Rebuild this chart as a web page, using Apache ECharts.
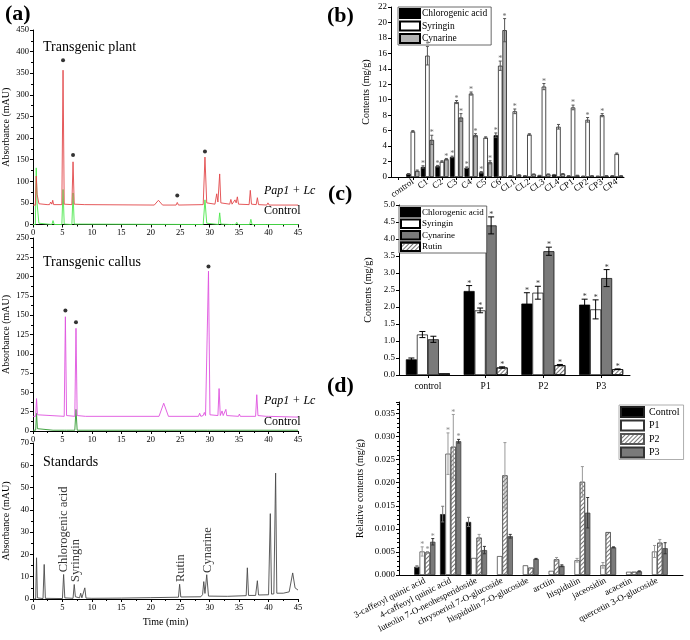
<!DOCTYPE html>
<html><head><meta charset="utf-8">
<script src="https://cdn.jsdelivr.net/npm/echarts/dist/echarts.min.js"></script>
<style>html,body{margin:0;padding:0;background:#fff}#c{width:690px;height:640px}</style>
</head><body><div id="c"></div>
<script>
const F = "'Liberation Serif','Times New Roman',serif";

// ---------- Panel (a): chromatograms, [time (min), absorbance (mAU)] ----------
const plantPap1Lc = [[0,45],[0.4,45],[0.55,112],[0.7,70],[0.85,72],[1.0,48],[2.4,46],[2.6,50],[2.8,46],[3.0,52],[3.2,47],[3.35,56],[3.5,46],[4.9,46],[5.1,357],[5.3,47],[6.6,46],[6.8,145],[7.0,47],[8.7,46],[8.85,49],[9.0,46],[20.6,45],[21.3,56],[22.0,45],[24.3,45],[24.5,51],[24.7,45],[28.9,46],[29.2,156],[29.5,50],[30.9,47],[31.2,71],[31.4,52],[31.7,117],[31.9,50],[33.4,47],[33.6,58],[33.8,47],[34.1,48],[34.3,57],[34.5,50],[34.7,64],[34.9,47],[36.7,46],[36.9,79],[37.1,47],[37.9,46],[38.1,62],[38.3,46],[39.7,45],[39.9,50],[40.1,45],[45,45]];
const plantControl = [[0,0],[0.4,0],[0.55,131],[0.7,48],[0.85,50],[1.0,3],[3.2,0],[3.4,9],[3.6,0],[4.9,0],[5.1,81],[5.3,1],[6.6,0],[6.8,73],[7.0,1],[28.9,0],[29.2,57],[29.5,3],[31.5,0],[31.7,27],[31.9,1],[33.5,0],[33.7,4],[33.9,0],[34.4,0],[34.6,5],[34.8,0],[36.8,0],[37.0,12],[37.2,0],[39.6,0],[39.8,2],[40.0,0],[45,0]];
const plantMarkedPeaks = [[5.1,380],[6.8,161],[24.5,67],[29.2,169]];

const callusPap1Lc = [[0,19],[0.45,19],[0.6,42],[0.75,21],[1.0,19],[5.3,19],[5.5,148],[5.7,20],[7.1,19],[7.3,133],[7.5,20],[8.9,19],[9.05,21],[9.2,19],[21.4,19],[22.2,36],[23.0,19],[28.1,19],[28.3,23],[28.5,19],[28.9,20],[29.1,24],[29.3,20],[29.55,20],[29.8,207],[30.05,21],[31.4,20],[31.6,55],[31.8,20],[32.0,20],[32.1,26],[32.3,20],[32.6,20],[32.75,28],[32.9,20],[34.9,19],[35.05,22],[35.2,19],[37.8,19],[38.0,47],[38.2,20],[39.6,19],[39.8,21],[40.0,19],[45,18]];
const callusControl = [[0,1],[0.45,1],[0.6,23],[0.75,3],[1.0,1],[3.4,1],[3.5,3],[3.6,1],[5.3,1],[5.5,3],[5.7,1],[7.1,1],[7.3,28],[7.5,1],[29.6,1],[29.8,3],[30.0,1],[45,1]];
const callusMarkedPeaks = [[5.5,156],[7.3,141],[29.8,213]];

const standardsTrace = [[0,0],[0.45,0],[0.6,18.5],[0.75,0.5],[1.7,0.2],[1.9,15.5],[2.1,0.3],[5.0,0.2],[5.2,11],[5.4,0.5],[6.8,0.3],[7.0,6.5],[7.2,1],[7.9,0.5],[8.1,2.6],[8.3,0.5],[8.6,0.5],[8.8,5],[9.0,0.4],[10,0.3],[15,0.4],[20,0.6],[24.7,0.8],[24.9,6.6],[25.1,0.9],[28.5,1],[28.8,2],[29.0,7.8],[29.2,2.5],[29.5,10.9],[29.8,1.3],[33,1.2],[36.2,1.5],[36.4,14],[36.6,1.6],[37.8,1.6],[38.1,8.2],[38.3,1.8],[40.0,1.9],[40.3,38.3],[40.5,2.2],[40.9,2.3],[41.2,56.5],[41.4,2.6],[42.5,2.6],[43.5,3.2],[44.1,11.7],[44.5,5],[45,4]];
const standardNames = ['Chlorogenic acid','Syringin','Rutin','Cynarine'];
const standardTimes = [5.2, 7.3, 25.0, 29.6];
const standardLabelHeights = [12, 7.6, 7.6, 11.7];

// ---------- Panel (b) ----------
const bCategories = ['control','C1','C2','C3','C4','C5','C6','CL1','CL2','CL3','CL4','CP1','CP2','CP3','CP4'];
const bChlorogenic = [0.4,1.3,1.4,2.6,1.2,0.6,5.4,0.15,0.15,0.2,0.3,0.15,0.1,0.1,0.15];
const bSyringin    = [5.9,15.7,2.0,9.7,10.8,5.1,14.4,8.5,5.5,11.7,6.5,9.0,7.4,8.0,3.0];
const bCynarine    = [0.8,4.8,2.3,7.7,5.4,1.9,19.0,0.25,0.35,0.35,0.4,0.2,0.15,0.15,0.15];
const bChlorogenicErr = [0.05,0.15,0.1,0.1,0.1,0.1,0.3,0.02,0.02,0.02,0.03,0.02,0.02,0.02,0.02];
const bSyringinErr    = [0.1,1.2,0.1,0.2,0.2,0.1,0.6,0.3,0.1,0.4,0.3,0.3,0.3,0.2,0.1];
const bCynarineErr    = [0.1,0.6,0.1,0.5,0.2,0.2,1.5,0.05,0.05,0.05,0.05,0.03,0.03,0.03,0.03];
const bChlorogenicStar = [0,1,1,1,1,1,1,0,0,0,0,0,0,0,0];
const bSyringinStar    = [0,1,0,1,1,0,1,1,0,1,0,1,1,1,0];
const bCynarineStar    = [0,1,1,1,1,1,1,0,0,0,0,0,0,0,0];

// ---------- Panel (c) ----------
const cCategories = ['control','P1','P2','P3'];
const cChlorogenic = [0.46,2.47,2.1,2.07];
const cSyringin    = [1.19,1.9,2.42,1.93];
const cCynarine    = [1.05,4.4,3.64,2.85];
const cRutin       = [0.05,0.22,0.29,0.17];
const cChlorogenicErr = [0.04,0.16,0.32,0.16];
const cSyringinErr    = [0.09,0.07,0.19,0.28];
const cCynarineErr    = [0.09,0.25,0.12,0.25];
const cRutinErr       = [0,0.02,0.02,0.01];
const cStar = [0,1,1,1];

// ---------- Panel (d) ----------
const dCategories = ['3-caffeoyl quinic acid','4-caffeoyl quinic acid','luteolin 7-O-neohesperidoside','chrysoeriol 7-O-glucoside','hispidulin 7-O-glucoside','arctiin','hispidulin','jaceosidin','acacetin','quercetin 3-O-glucoside'];
const dControl = [0.0018,0.0132,0.0115,null,null,null,null,null,null,null];
const dP1 = [0.0051,0.0263,0.0037,0.0041,0.0021,0.0009,0.0032,0.0021,0.0007,0.0051];
const dP2 = [0.0049,0.0278,0.0081,0.0216,0.0016,0.0034,0.0202,0.0093,0.0007,0.0070];
const dP3 = [0.0072,0.0290,0.0054,0.0084,0.0035,0.0020,0.0135,0.0060,0.0008,0.0058];
const dControlErr = [0.0002,0.0017,0.0010,0,0,0,0,0,0,0];
const dP1Err = [0.0010,0.0045,0,0,0,0,0.0004,0.0006,0,0.0013];
const dP2Err = [0.0002,0.0070,0.0007,0.0071,0,0.0004,0.0033,0,0,0.0007];
const dP3Err = [0.0007,0.0004,0.0008,0.0004,0.0001,0.0002,0.0033,0.0001,0.0001,0.0012];
const dControlStar = [0,0,0,0,0,0,0,0,0,0];
const dP1Star = [1,1,0,0,0,0,0,0,0,0];
const dP2Star = [1,1,0,0,0,0,0,0,0,0];
const dP3Star = [1,1,0,0,0,0,0,0,0,0];

// ---------- helpers ----------
const AX = {color:'#000', width:1};
function valueAxis(gi, min, max, interval, o) {
  o = o || {};
  return {
    type:'value', gridIndex:gi, min:min, max:max, interval:interval,
    axisLine:{show:true, lineStyle:AX},
    axisTick:{show:true, length:3, lineStyle:AX},
    minorTick:{show:!!o.minor, splitNumber:o.minor||2, length:2, lineStyle:AX},
    splitLine:{show:false}, minorSplitLine:{show:false},
    axisLabel:{color:'#000', fontFamily:F, fontSize:o.fs||8.5, margin:o.margin||4, formatter:o.fmt},
    name:o.name||'', nameLocation:'middle', nameGap:o.nameGap||20,
    nameTextStyle:{color:'#000', fontFamily:F, fontSize:o.nfs||10}
  };
}
function catAxis(gi, cats, o) {
  return {
    type:'category', gridIndex:gi, data:cats, boundaryGap:o.boundaryGap !== false,
    axisLine:{show:true, lineStyle:AX},
    axisTick:{show:!!o.tick, alignWithLabel:true, length:3, lineStyle:AX},
    splitLine:{show:false},
    axisLabel:{color:'#000', fontFamily:F, fontSize:o.fs||9, interval:0, rotate:o.rotate||0, margin:o.margin||4}
  };
}
const pad1 = a => [null].concat(a);
const padBoth = a => [null].concat(a, [null]);
const padCat1 = a => [''].concat(a);
const padCatBoth = a => [''].concat(a, ['']);

function errRows(groups, shift) {
  const rows = [];
  groups.forEach((g, k) => {
    g.v.forEach((v, i) => {
      if (v == null) return;
      rows.push([i + shift, v, g.e[i] || 0, k, g.s[i] || 0]);
    });
  });
  return rows;
}
function errSeries(xi, yi, rows, n, barW, capW, colors, starColor, starSize) {
  return {
    type:'custom', xAxisIndex:xi, yAxisIndex:yi, data:rows, z:10, silent:true,
    encode:{x:0, y:1},
    renderItem:function(params, api){
      const cat = api.value(0), v = api.value(1), e = api.value(2), k = api.value(3), st = api.value(4);
      const base = api.coord([cat, v]);
      const x = base[0] + (k - (n - 1) / 2) * barW;
      const yTop = api.coord([cat, v + e])[1];
      const yBot = api.coord([cat, Math.max(0, v - e)])[1];
      const col = colors[k];
      const ch = [];
      if (e > 0) {
        ch.push({type:'line', shape:{x1:x, y1:yTop, x2:x, y2:yBot}, style:{stroke:col, lineWidth:1}});
        ch.push({type:'line', shape:{x1:x-capW/2, y1:yTop, x2:x+capW/2, y2:yTop}, style:{stroke:col, lineWidth:1}});
        ch.push({type:'line', shape:{x1:x-capW/2, y1:yBot, x2:x+capW/2, y2:yBot}, style:{stroke:col, lineWidth:1}});
      }
      if (st) ch.push({type:'text', x:x, y:yTop + 2, style:{text:'*', align:'center', verticalAlign:'bottom', textAlign:'center', textVerticalAlign:'bottom', fontSize:starSize, fontFamily:F, fill:starColor}});
      return {type:'group', children:ch};
    }
  };
}
function line(xi, data, color, w) {
  return {type:'line', xAxisIndex:xi, yAxisIndex:xi, data:data, symbol:'none', showSymbol:false, silent:true,
          lineStyle:{color:color, width:w||0.9}, itemStyle:{color:color}};
}
function dots(xi, data) {
  return {type:'scatter', xAxisIndex:xi, yAxisIndex:xi, data:data, symbol:'circle', symbolSize:4, silent:true, itemStyle:{color:'#000'}};
}
const hatch = {symbol:'rect', symbolSize:1, dashArrayX:[1,0], dashArrayY:[1,2], rotation:-Math.PI/4, color:'#777'};
const BB = {borderColor:'#000', borderWidth:0.7};
function bar(name, xi, data, w, color, extra) {
  return {type:'bar', name:name, xAxisIndex:xi, yAxisIndex:xi, data:data, barWidth:w, barGap:'0%', silent:true,
          itemStyle:Object.assign({color:color}, BB, extra||{})};
}

const chart = echarts.init(document.getElementById('c'), null, {renderer:'canvas'});

const option = {
  animation:false,
  backgroundColor:'#fff',
  grid:[
    {left:33, top:30, width:265, height:194.5, containLabel:false},
    {left:33, top:238, width:265, height:193, containLabel:false},
    {left:33, top:443, width:265, height:156, containLabel:false},
    {left:391, top:7, width:233, height:170, containLabel:false},
    {left:399, top:205, width:231, height:170, containLabel:false},
    {left:399, top:402, width:284, height:173, containLabel:false}
  ],
  xAxis:[
    valueAxis(0, 0, 45, 5, {minor:2}),
    valueAxis(1, 0, 45, 5, {minor:2}),
    valueAxis(2, 0, 45, 5, {minor:2, name:'Time (min)', nameGap:18}),
    catAxis(3, padCat1(bCategories), {rotate:35, fs:9, tick:true}),
    catAxis(4, cCategories, {fs:9.5, tick:true, margin:6}),
    catAxis(5, padCatBoth(dCategories), {rotate:27, fs:9, boundaryGap:false, margin:5})
  ],
  yAxis:[
    valueAxis(0, 0, 450, 50, {minor:2, name:'Absorbance (mAU)', nameGap:22}),
    valueAxis(1, 0, 250, 25, {minor:2, name:'Absorbance (mAU)', nameGap:22}),
    valueAxis(2, 0, 70, 10, {minor:2, name:'Absorbance (mAU)', nameGap:22}),
    valueAxis(3, 0, 22, 2, {fs:9, name:'Contents (mg/g)', nameGap:20}),
    valueAxis(4, 0, 5, 0.5, {fs:9, name:'Contents (mg/g)', nameGap:26, fmt:v => v.toFixed(1)}),
    valueAxis(5, 0, 0.0375, 0.005, {fs:9, minor:5, name:'Relative contents (mg/g)', nameGap:34,
      fmt:v => (Math.abs(v/0.005 - Math.round(v/0.005)) < 1e-6 ? v.toFixed(3) : '')})
  ],
  legend:[
    {orient:'vertical', left:398, top:7, icon:'rect', itemWidth:20, itemHeight:9, itemGap:1.5,
     padding:[1,4,1,1], borderColor:'#444', borderWidth:0.8, backgroundColor:'#fff', selectedMode:false,
     textStyle:{fontFamily:F, fontSize:9.5, color:'#000', lineHeight:9.5, padding:[0,0,0,-3]},
     data:[{name:'Chlorogenic acid'},{name:'Syringin'},{name:'Cynarine', itemStyle:{color:'#b4b4b4'}}]},
    {orient:'vertical', left:399, top:206, icon:'rect', itemWidth:19, itemHeight:8.5, itemGap:1,
     padding:[1,3,1,1], borderColor:'#444', borderWidth:0.8, backgroundColor:'#fff', selectedMode:false,
     textStyle:{fontFamily:F, fontSize:9, color:'#000', lineHeight:9, padding:[0,0,0,-3]},
     data:[{name:'Chlorogenic acid'},{name:'Syringin'},{name:'Cynarine', itemStyle:{color:'#7a7a7a'}},{name:'Rutin'}]},
    {orient:'vertical', left:619, top:405, icon:'rect', itemWidth:23, itemHeight:10, itemGap:1.5,
     padding:[1,4,1,1], borderColor:'#999', borderWidth:0.8, backgroundColor:'#fff', selectedMode:false,
     textStyle:{fontFamily:F, fontSize:10, color:'#000', lineHeight:10},
     data:['Control','P1','P2','P3']}
  ],
  series:[
    // (a) transgenic plant
    line(0, plantControl, '#4be84b', 0.9),
    line(0, plantPap1Lc, '#e2474a', 0.9),
    dots(0, plantMarkedPeaks),
    // (a) transgenic callus
    line(1, callusControl, '#2f9a2f', 0.9),
    line(1, callusPap1Lc, '#df52df', 0.9),
    dots(1, callusMarkedPeaks),
    // (a) standards
    line(2, standardsTrace, '#4a4a4a', 0.9),
    {type:'scatter', xAxisIndex:2, yAxisIndex:2, symbolSize:0, silent:true,
     data: standardNames.map((n, i) => ({name:n, value:[standardTimes[i], standardLabelHeights[i]]})),
     label:{show:true, formatter:'{b}', position:'right', distance:0, rotate:90,
            fontFamily:F, fontSize:12.5, color:'#000'}},
    // (b)
    bar('Chlorogenic acid', 3, pad1(bChlorogenic), 4.4, '#000'),
    bar('Syringin', 3, pad1(bSyringin), 4.4, '#fff'),
    bar('Cynarine', 3, pad1(bCynarine), 4.4, '#b4b4b4'),
    errSeries(3, 3, errRows([
      {v:bChlorogenic, e:bChlorogenicErr, s:bChlorogenicStar},
      {v:bSyringin, e:bSyringinErr, s:bSyringinStar},
      {v:bCynarine, e:bCynarineErr, s:bCynarineStar}], 1), 3, 4.4, 3, ['#555','#555','#555'], '#666', 8),
    // (c)
    bar('Chlorogenic acid', 4, cChlorogenic, 11, '#000'),
    bar('Syringin', 4, cSyringin, 11, '#fff'),
    bar('Cynarine', 4, cCynarine, 11, '#7a7a7a'),
    bar('Rutin', 4, cRutin, 11, '#fff', {decal:hatch}),
    errSeries(4, 4, errRows([
      {v:cChlorogenic, e:cChlorogenicErr, s:cStar},
      {v:cSyringin, e:cSyringinErr, s:cStar},
      {v:cCynarine, e:cCynarineErr, s:cStar},
      {v:cRutin, e:cRutinErr, s:cStar}], 0), 4, 11, 6, ['#000','#000','#000','#000'], '#333', 8),
    // (d)
    bar('Control', 5, padBoth(dControl), 5.3, '#000', {borderColor:'#222'}),
    bar('P1', 5, padBoth(dP1), 5.3, '#fff', {borderColor:'#333'}),
    bar('P2', 5, padBoth(dP2), 5.3, '#fff', {borderColor:'#555', decal:hatch}),
    bar('P3', 5, padBoth(dP3), 5.3, '#7a7a7a', {borderColor:'#333'}),
    errSeries(5, 5, errRows([
      {v:dControl, e:dControlErr, s:dControlStar},
      {v:dP1, e:dP1Err, s:dP1Star},
      {v:dP2, e:dP2Err, s:dP2Star},
      {v:dP3, e:dP3Err, s:dP3Star}], 1), 4, 5.3, 3, ['#777','#999','#999','#333'], '#888', 8)
  ],
  graphic:[
    {type:'text', left:5, top:3, style:{text:'(a)', font:'bold 22px '+F, fill:'#000'}},
    {type:'text', left:327, top:5, style:{text:'(b)', font:'bold 22px '+F, fill:'#000'}},
    {type:'text', left:328, top:183, style:{text:'(c)', font:'bold 22px '+F, fill:'#000'}},
    {type:'text', left:327, top:375, style:{text:'(d)', font:'bold 22px '+F, fill:'#000'}},
    {type:'text', left:43, top:40, style:{text:'Transgenic plant', font:'14px '+F, fill:'#000'}},
    {type:'text', left:43, top:255, style:{text:'Transgenic callus', font:'14px '+F, fill:'#000'}},
    {type:'text', left:43, top:455, style:{text:'Standards', font:'14px '+F, fill:'#000'}},
    {type:'text', left:264, top:185, style:{text:'Pap1 + Lc', font:'italic 12px '+F, fill:'#000'}},
    {type:'text', left:264, top:205, style:{text:'Control', font:'12px '+F, fill:'#000'}},
    {type:'text', left:264, top:395, style:{text:'Pap1 + Lc', font:'italic 12px '+F, fill:'#000'}},
    {type:'text', left:264, top:416, style:{text:'Control', font:'12px '+F, fill:'#000'}}
  ]
};
chart.setOption(option);
</script></body></html>
